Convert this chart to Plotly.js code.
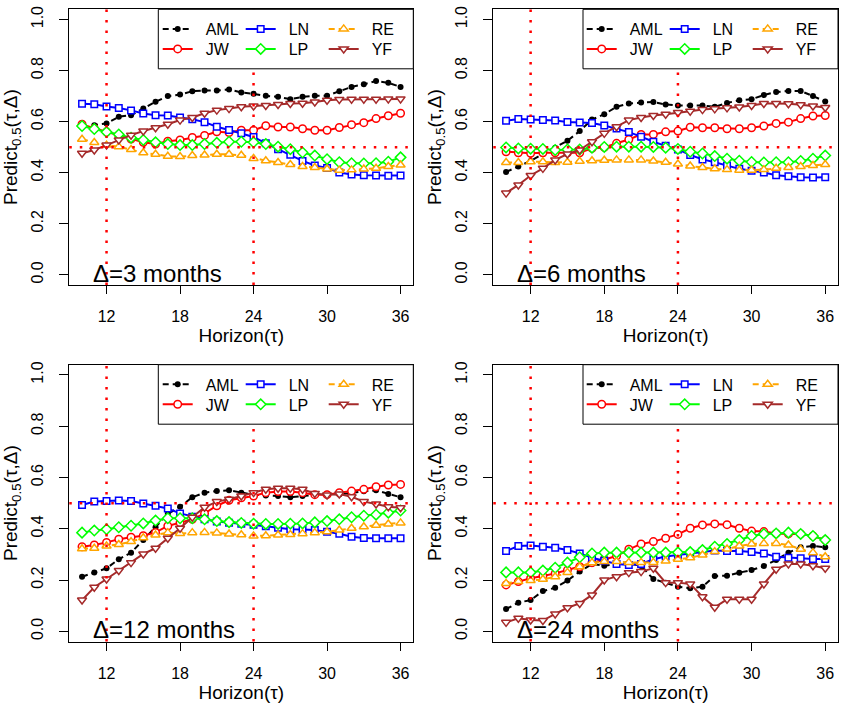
<!DOCTYPE html>
<html><head><meta charset="utf-8">
<script src="https://cdn.plot.ly/plotly-3.0.1.min.js"></script>
<style>html,body{margin:0;padding:0;background:#fff}#chart{width:847px;height:711px}</style>
</head><body><div id="chart"></div>
<script>
// ---------- data ----------
const tau = [10,11,12,13,14,15,16,17,18,19,20,21,22,23,24,25,26,27,28,29,30,31,32,33,34,35,36];
const seriesNames = ['AML','JW','LN','LP','RE','YF'];
const deltaLabels = ['\u0394=3 months','\u0394=6 months','\u0394=12 months','\u0394=24 months'];
const xTicks = [12,18,24,30,36];
const yTicks = [0,0.2,0.4,0.6,0.8,1.0];
const refX = [12,24];
const refY = [0.5];

// Delta = 3 months
const aml3 = [0.580,0.586,0.593,0.619,0.625,0.651,0.678,0.700,0.706,0.719,0.722,0.722,0.726,0.714,0.709,0.701,0.697,0.688,0.697,0.701,0.701,0.719,0.736,0.746,0.759,0.752,0.736];
const jw3  = [0.590,0.573,0.560,0.547,0.532,0.519,0.512,0.523,0.528,0.538,0.546,0.560,0.557,0.566,0.566,0.584,0.579,0.579,0.572,0.566,0.566,0.577,0.588,0.596,0.612,0.623,0.633];
const ln3  = [0.670,0.668,0.659,0.653,0.644,0.632,0.625,0.624,0.616,0.609,0.598,0.580,0.567,0.554,0.540,0.515,0.492,0.470,0.446,0.428,0.418,0.401,0.393,0.390,0.389,0.388,0.389];
const lp3  = [0.583,0.571,0.559,0.550,0.537,0.528,0.519,0.512,0.508,0.508,0.512,0.517,0.521,0.521,0.519,0.512,0.502,0.492,0.479,0.467,0.453,0.441,0.437,0.436,0.437,0.443,0.460];
const re3  = [0.531,0.518,0.508,0.502,0.491,0.478,0.472,0.464,0.463,0.467,0.469,0.472,0.472,0.468,0.456,0.447,0.440,0.432,0.424,0.420,0.414,0.410,0.411,0.414,0.417,0.424,0.430];
const yf3  = [0.476,0.489,0.508,0.528,0.547,0.563,0.576,0.590,0.606,0.616,0.633,0.645,0.651,0.658,0.661,0.663,0.667,0.671,0.672,0.677,0.684,0.687,0.688,0.688,0.688,0.689,0.689];

// Delta = 6 months
const aml6 = [0.403,0.424,0.446,0.473,0.498,0.525,0.563,0.608,0.629,0.658,0.671,0.675,0.677,0.667,0.663,0.663,0.663,0.658,0.673,0.684,0.688,0.704,0.716,0.720,0.720,0.700,0.679];
const jw6  = [0.482,0.478,0.476,0.478,0.478,0.478,0.478,0.495,0.499,0.515,0.530,0.550,0.550,0.560,0.563,0.578,0.576,0.576,0.572,0.572,0.576,0.583,0.593,0.598,0.612,0.622,0.624];
const ln6  = [0.603,0.610,0.608,0.606,0.604,0.599,0.597,0.595,0.585,0.573,0.559,0.541,0.521,0.505,0.491,0.469,0.452,0.441,0.428,0.415,0.408,0.401,0.390,0.386,0.382,0.381,0.382];
const lp6  = [0.499,0.495,0.494,0.493,0.489,0.491,0.491,0.498,0.501,0.502,0.502,0.502,0.501,0.498,0.493,0.482,0.475,0.465,0.455,0.447,0.442,0.440,0.441,0.441,0.446,0.455,0.467];
const re6  = [0.440,0.440,0.443,0.443,0.440,0.441,0.445,0.447,0.449,0.450,0.450,0.450,0.446,0.441,0.434,0.426,0.420,0.415,0.412,0.410,0.410,0.412,0.417,0.420,0.424,0.428,0.432];
const yf6  = [0.320,0.352,0.389,0.417,0.450,0.473,0.489,0.521,0.554,0.580,0.606,0.616,0.624,0.629,0.636,0.641,0.647,0.650,0.654,0.657,0.663,0.671,0.671,0.670,0.666,0.661,0.655];

// Delta = 12 months
const aml12 = [0.213,0.230,0.246,0.281,0.307,0.356,0.406,0.458,0.486,0.523,0.541,0.547,0.550,0.541,0.533,0.530,0.528,0.523,0.528,0.534,0.537,0.534,0.541,0.546,0.550,0.536,0.523];
const jw12  = [0.330,0.337,0.347,0.359,0.367,0.373,0.386,0.411,0.424,0.437,0.460,0.490,0.511,0.521,0.528,0.541,0.545,0.545,0.541,0.533,0.533,0.541,0.547,0.554,0.564,0.571,0.573];
const ln12  = [0.493,0.506,0.508,0.510,0.508,0.499,0.490,0.479,0.460,0.447,0.437,0.428,0.424,0.420,0.416,0.410,0.404,0.398,0.397,0.395,0.388,0.381,0.369,0.364,0.363,0.363,0.363];
const lp12  = [0.385,0.393,0.398,0.406,0.412,0.421,0.432,0.441,0.441,0.441,0.437,0.430,0.426,0.423,0.420,0.419,0.419,0.420,0.421,0.425,0.430,0.437,0.445,0.451,0.455,0.463,0.471];
const re12  = [0.322,0.324,0.333,0.339,0.350,0.365,0.376,0.385,0.382,0.385,0.386,0.384,0.380,0.377,0.372,0.373,0.376,0.378,0.381,0.385,0.388,0.395,0.402,0.408,0.414,0.419,0.423];
const yf12  = [0.122,0.172,0.204,0.237,0.268,0.302,0.324,0.363,0.402,0.445,0.484,0.506,0.515,0.528,0.541,0.554,0.558,0.558,0.554,0.538,0.532,0.536,0.525,0.506,0.497,0.486,0.482];

// Delta = 24 months
const aml24 = [0.087,0.112,0.122,0.157,0.170,0.198,0.233,0.263,0.256,0.263,0.265,0.255,0.204,0.190,0.174,0.168,0.174,0.216,0.217,0.229,0.239,0.255,0.278,0.307,0.328,0.333,0.328];
const jw24  = [0.181,0.194,0.207,0.216,0.226,0.239,0.252,0.268,0.281,0.294,0.320,0.341,0.350,0.363,0.378,0.402,0.415,0.419,0.416,0.402,0.391,0.389,0.382,0.380,0.380,0.372,0.356];
const ln24  = [0.313,0.333,0.335,0.330,0.326,0.317,0.304,0.287,0.275,0.263,0.259,0.263,0.281,0.292,0.298,0.304,0.311,0.315,0.313,0.313,0.309,0.304,0.291,0.287,0.285,0.282,0.282];
const lp24  = [0.230,0.230,0.230,0.237,0.248,0.268,0.289,0.304,0.307,0.307,0.307,0.307,0.307,0.307,0.308,0.309,0.317,0.330,0.341,0.356,0.372,0.380,0.382,0.385,0.380,0.372,0.356];
const re24  = [0.187,0.194,0.198,0.203,0.213,0.230,0.252,0.268,0.272,0.272,0.269,0.269,0.269,0.274,0.281,0.287,0.298,0.311,0.321,0.333,0.341,0.343,0.343,0.337,0.320,0.307,0.291];
const yf24  = [0.035,0.051,0.044,0.042,0.068,0.092,0.109,0.142,0.200,0.213,0.229,0.233,0.246,0.190,0.190,0.185,0.135,0.094,0.125,0.125,0.125,0.185,0.242,0.263,0.263,0.256,0.246];

// ---------- styling ----------
const FONT = 'Liberation Sans, Arial, Helvetica, sans-serif';
const W = 847, H = 711;
const styles = {
  AML: {color:'#000000', symbol:'circle',        size:6,   dash:'6px,4px', filled:true,  row:0},
  JW:  {color:'#FF0000', symbol:'circle',        size:7.5, dash:'solid',   filled:false, row:1},
  LN:  {color:'#0000FF', symbol:'square',        size:6.5, dash:'solid',   filled:false, row:0},
  LP:  {color:'#00FF00', symbol:'diamond',       size:8,   dash:'solid',   filled:false, row:1},
  RE:  {color:'#FFA500', symbol:'triangle-up',   size:8,   dash:'6px,4px', filled:false, row:0},
  YF:  {color:'#A52A2A', symbol:'triangle-down', size:8,   dash:'solid',   filled:false, row:1}
};
const panelData = [
  [aml3, jw3, ln3, lp3, re3, yf3],
  [aml6, jw6, ln6, lp6, re6, yf6],
  [aml12, jw12, ln12, lp12, re12, yf12],
  [aml24, jw24, ln24, lp24, re24, yf24]
];
// plot boxes in pixels [left, right, top, bottom]
const boxes = [
  [69.3, 413.3, 9.3, 285.0],
  [493.3, 838.0, 9.3, 285.0],
  [69.3, 413.3, 364.7, 641.6],
  [493.3, 838.0, 364.7, 641.6]
];

const traces = [];
const layout = {
  width: W, height: H,
  margin: {l:0, r:0, t:0, b:0, autoexpand:false},
  paper_bgcolor: '#ffffff', plot_bgcolor: '#ffffff',
  font: {family: FONT, color: '#000000', size: 16},
  showlegend: true,
  shapes: [], annotations: []
};

panelData.forEach((series, p) => {
  const n = p + 1;
  const xa = 'x' + (n > 1 ? n : '');
  const ya = 'y' + (n > 1 ? n : '');
  const b = boxes[p];
  const legA = 'legend' + (2*p + 1 > 1 ? (2*p + 1) : '');
  const legB = 'legend' + (2*p + 2);
  series.forEach((vals, i) => {
    const name = seriesNames[i];
    const s = styles[name];
    traces.push({
      type: 'scatter', mode: 'lines+markers', x: tau, y: vals,
      name: '\u2002' + name,
      xaxis: xa, yaxis: ya,
      legend: s.row === 0 ? legA : legB,
      line: {color: s.color, width: 2, dash: s.dash},
      marker: {symbol: s.symbol, size: s.size,
               color: s.filled ? s.color : '#ffffff',
               line: {color: s.color, width: s.filled ? 0 : 1.5}},
      hoverinfo: 'x+y+name'
    });
  });
  const axX = {
    domain: [b[0]/W, b[1]/W], anchor: ya,
    range: [8.96, 37.04], tickvals: xTicks, ticktext: xTicks.map(String),
    ticks: 'outside', ticklen: 8, tickwidth: 1, tickcolor: '#000',
    showline: true, mirror: true, linecolor: '#000', linewidth: 1,
    showgrid: false, zeroline: false, ticklabelstandoff: 9,
    tickfont: {size: 16, family: FONT, color: '#000'},
    title: {text: 'Horizon(\u03c4)', font: {size: 19, family: FONT, color: '#000'}, standoff: 4}
  };
  const axY = {
    domain: [1 - b[3]/H, 1 - b[2]/H], anchor: xa,
    range: [-0.04, 1.04], tickvals: yTicks, tickformat: '.1f', tickangle: -90,
    ticks: 'outside', ticklen: 9, tickwidth: 1, tickcolor: '#000',
    showline: true, mirror: true, linecolor: '#000', linewidth: 1,
    showgrid: false, zeroline: false, ticklabelstandoff: 10,
    tickfont: {size: 16, family: FONT, color: '#000'},
    title: {text: 'Predict<sub>0.5</sub>(\u03c4,\u0394)', font: {size: 19, family: FONT, color: '#000'}, standoff: 6}
  };
  layout['xaxis' + (n > 1 ? n : '')] = axX;
  layout['yaxis' + (n > 1 ? n : '')] = axY;

  // reference lines
  refX.forEach(v => layout.shapes.push({type:'line', xref: xa, yref: ya + ' domain', x0: v, x1: v, y0: 0, y1: 1,
    line: {color: '#FF0000', width: 2.5, dash: '2.5px,8px'}}));
  refY.forEach(v => layout.shapes.push({type:'line', xref: xa + ' domain', yref: ya, x0: 0, x1: 1, y0: v, y1: v,
    line: {color: '#FF0000', width: 2.5, dash: '2.5px,8px'}}));
  // legend box (white, bordered)
  const pw = b[1] - b[0], ph = b[3] - b[2];
  layout.shapes.push({type:'rect', xref: xa + ' domain', yref: ya + ' domain',
    x0: 1 - 255/pw, x1: 1, y0: 1 - 59.5/ph, y1: 1,
    fillcolor: '#ffffff', line: {color: '#000', width: 1}});
  // legends (two rows)
  const legCommon = {orientation: 'h', entrywidth: 38, entrywidthmode: 'pixels',
    bgcolor: 'rgba(0,0,0,0)', borderwidth: 0, xanchor: 'left', yanchor: 'top',
    font: {size: 16, family: FONT, color: '#000'}, traceorder: 'normal'};
  const lx = (b[0] + 88.4) / W;
  layout[legA] = Object.assign({}, legCommon, {x: lx, y: 1 - (b[2] + 19.6 - 16.9)/H});
  layout[legB] = Object.assign({}, legCommon, {x: lx, y: 1 - (b[2] + 39.6 - 16.9)/H});
  // delta label
  layout.annotations.push({xref: xa + ' domain', yref: ya + ' domain', x: 22/pw, y: 12/ph,
    xanchor: 'left', yanchor: 'middle', showarrow: false, text: deltaLabels[p],
    font: {size: 24, family: FONT, color: '#000'}});
});

Plotly.newPlot('chart', traces, layout, {displayModeBar: false, staticPlot: true});
</script>
</body></html>
